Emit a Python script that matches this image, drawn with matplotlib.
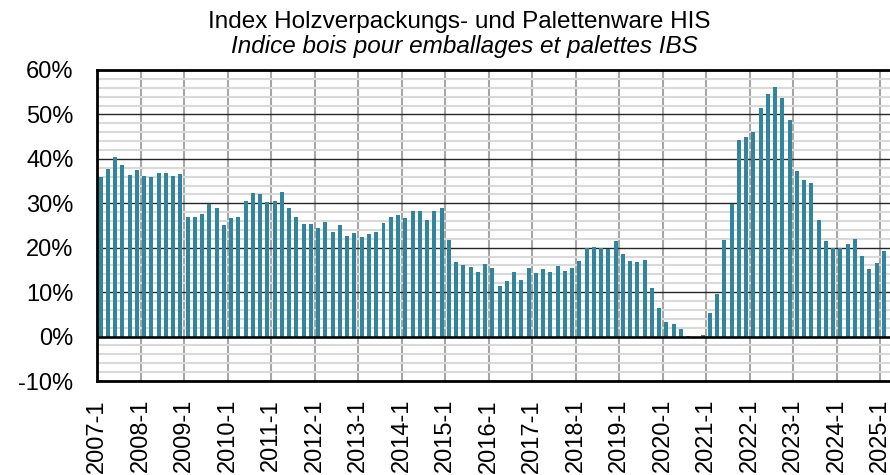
import numpy as np
import matplotlib
matplotlib.use("Agg")
import matplotlib.pyplot as plt
from matplotlib.ticker import MultipleLocator, FuncFormatter

# bimonthly values, in percent, one list per year
years = list(range(2007, 2026))
v2007 = [35.9, 37.7, 40.5, 38.6, 36.3, 37.4]
v2008 = [36.2, 35.9, 36.8, 36.8, 36.2, 36.5]
v2009 = [26.9, 26.9, 27.7, 29.8, 28.9, 25.0]
v2010 = [26.7, 27.0, 30.5, 32.3, 32.1, 30.4]
v2011 = [30.6, 32.6, 28.9, 27.0, 25.3, 25.3]
v2012 = [24.4, 25.7, 23.6, 25.1, 22.7, 23.3]
v2013 = [22.4, 23.0, 23.6, 25.5, 26.9, 27.3]
v2014 = [26.6, 28.2, 28.2, 26.2, 28.2, 28.9]
v2015 = [21.7, 16.8, 16.1, 15.7, 14.6, 16.3]
v2016 = [15.4, 11.3, 12.5, 14.6, 12.7, 15.5]
v2017 = [14.4, 15.2, 14.6, 15.8, 14.7, 15.4]
v2018 = [17.0, 19.9, 20.1, 19.9, 19.6, 21.5]
v2019 = [18.5, 17.0, 16.7, 17.2, 11.0, 6.4]
v2020 = [3.3, 2.9, 1.6, 0.2, 0.0, 0.4]
v2021 = [5.4, 9.5, 21.7, 29.9, 44.2, 44.9]
v2022 = [46.1, 51.4, 54.7, 56.2, 53.8, 48.8]
v2023 = [37.3, 35.2, 34.6, 26.3, 21.5, 19.9]
v2024 = [19.9, 20.9, 21.9, 18.2, 15.3, 16.6]
v2025 = [19.2]

values = (v2007 + v2008 + v2009 + v2010 + v2011 + v2012 + v2013 + v2014 + v2015
          + v2016 + v2017 + v2018 + v2019 + v2020 + v2021 + v2022 + v2023 + v2024 + v2025)
tick_labels = ["%d-1" % y for y in years]

plt.rcParams['font.family'] = ['Liberation Sans', 'DejaVu Sans']

fig = plt.figure(figsize=(8.9, 4.75), dpi=100)
ax = fig.add_axes([97/890, 1 - 381/475, 1 - 97/890, (381 - 70)/475])

x = np.arange(len(values))
ax.bar(x, values, width=0.55, color='#31859c', zorder=3)

ax.set_ylim(-10, 60)
ax.set_xlim(-0.5, 108.83)

# y grid: black every 10 %, light grey every 2 %
ax.yaxis.set_major_locator(MultipleLocator(10))
ax.yaxis.set_minor_locator(MultipleLocator(2))
ax.yaxis.set_major_formatter(FuncFormatter(lambda v, p: "%d%%" % v))
ax.grid(which='minor', axis='y', color='#d9d9d9', lw=1.5, zorder=0)
ax.grid(which='major', axis='y', color='#262626', lw=1.0, zorder=1)
ax.axhline(0, color='black', lw=1.8, zorder=4)

# one x tick per year, at the category boundary
ax.set_xticks([6 * i - 0.5 for i in range(len(years))])
ax.set_xticklabels(tick_labels, rotation=90, va='top')
ax.grid(which='major', axis='x', color='#a6a6a6', lw=1.5, zorder=1)

ax.tick_params(axis='both', which='both', length=0, labelsize=17)
ax.tick_params(axis='y', pad=17)
ax.tick_params(axis='x', pad=13)

for s in ['left', 'bottom', 'top']:
    ax.spines[s].set_linewidth(2)
    ax.spines[s].set_color('black')
ax.spines['right'].set_visible(False)

fig.text(459/890, 1 - 28/475, "Index Holzverpackungs- und Palettenware HIS",
         ha='center', va='baseline', fontsize=17.5)
fig.text(464/890, 1 - 53/475, "Indice bois pour emballages et palettes IBS",
         ha='center', va='baseline', fontsize=17.5, style='italic')

fig.savefig('out.png', dpi=100)
